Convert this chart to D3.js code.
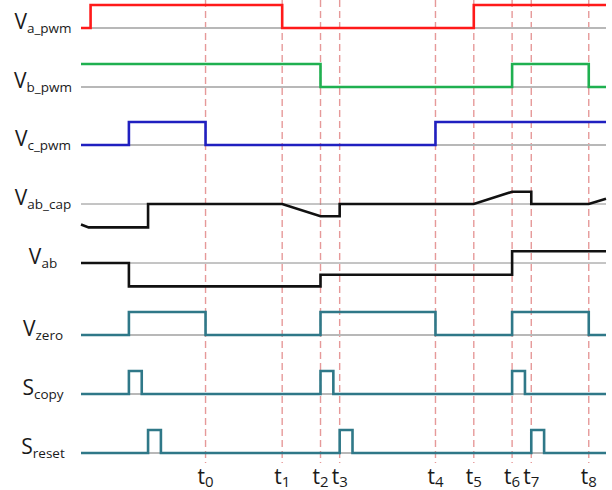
<!DOCTYPE html>
<html>
<head>
<meta charset="utf-8">
<script src="https://cdn.jsdelivr.net/npm/d3@7"></script>
<style>
  html, body { margin: 0; padding: 0; background: #fff; }
  svg { display: block; font-family: "Open Sans", sans-serif; }
</style>
</head>
<body>
<svg id="chart" width="612" height="490"></svg>
<script>
// event instants t0..t8 (time units, t0 = 0)
const tickTimes = [0, 4, 6, 7, 12, 14, 16, 17, 20];
const tickLabels = ["0", "1", "2", "3", "4", "5", "6", "7", "8"];

// row labels: main letter + subscript
const labelMain = ["V", "V", "V", "V", "V", "V", "S", "S"];
const labelSub = ["a_pwm", "b_pwm", "c_pwm", "ab_cap", "ab", "zero", "copy", "reset"];

// signal waveforms as [time, level]
const vaPwm = [[-6.5, 0], [-6, 1], [4, 0], [14, 1], [20.9, 1]];
const vbPwm = [[-6.5, 1], [6, 0], [16, 1], [20, 0], [20.9, 0]];
const vcPwm = [[-6.5, 0], [-4, 1], [0, 0], [12, 1], [20.9, 1]];
const vabCap = [[-6.5, -1.75], [-6.1, -2], [-3, -2], [-3, 0], [4, 0], [6, -1.05], [7, -1.05],
  [7, 0], [14, 0], [16, 1.05], [17, 1.05], [17, 0], [20, 0], [20.9, 0.45]];
const vab = [[-6.5, 0], [-4, -2], [6, -1], [16, 1], [20.9, 1]];
const vZero = [[-6.5, 0], [-4, 1], [0, 0], [6, 1], [12, 0], [16, 1], [20, 0], [20.9, 0]];
const sCopy = [[-6.5, 0], [-4, 1], [-3.33, 0], [6, 1], [6.67, 0], [16, 1], [16.67, 0], [20.9, 0]];
const sReset = [[-6.5, 0], [-3, 1], [-2.33, 0], [7, 1], [7.67, 0], [17, 1], [17.67, 0], [20.9, 0]];

const rows = [
  { data: vaPwm, color: "#ff1a1a", step: true, analog: false },
  { data: vbPwm, color: "#1fb050", step: true, analog: false },
  { data: vcPwm, color: "#2020c0", step: true, analog: false },
  { data: vabCap, color: "#111", step: false, analog: true },
  { data: vab, color: "#111", step: true, analog: true },
  { data: vZero, color: "#2f7888", step: true, analog: false },
  { data: sCopy, color: "#2f7888", step: true, analog: false },
  { data: sReset, color: "#2f7888", step: true, analog: false },
];

// layout
const rowBase = [28, 87, 145, 204, 263, 335, 394, 453];
const DIGITAL_AMP = 23;
const ANALOG_UNIT = 11.7;
const LABEL_X = 43;

const svg = d3.select("#chart");

const x = d3.scaleLinear().domain([-6.5, 20.9]).range([81, 606]);

// dashed time markers
svg.append("g")
  .selectAll("line")
  .data(tickTimes)
  .enter()
  .append("line")
  .attr("x1", (d) => x(d))
  .attr("x2", (d) => x(d))
  .attr("y1", 0)
  .attr("y2", 463)
  .attr("stroke", "#e08080")
  .attr("stroke-opacity", 0.8)
  .attr("stroke-width", 1.4)
  .attr("stroke-dasharray", "7,4");

// tick labels t_n
const tl = svg.append("g")
  .selectAll("text")
  .data(tickTimes)
  .enter()
  .append("text")
  .attr("x", (d) => x(d))
  .attr("y", 484)
  .attr("text-anchor", "middle")
  .attr("fill", "#1a1a1a")
  .style("font-size", "21px");
tl.append("tspan").text("t");
tl.append("tspan")
  .attr("dy", 3)
  .style("font-size", "15px")
  .text((d, i) => tickLabels[i]);

// rows
rows.forEach((r, i) => {
  const base = rowBase[i];
  const y = r.analog
    ? d3.scaleLinear().domain([0, 1]).range([base, base - ANALOG_UNIT])
    : d3.scaleLinear().domain([0, 1]).range([base, base - DIGITAL_AMP]);

  const g = svg.append("g").attr("class", "row");

  // reference baseline
  g.append("line")
    .attr("x1", x.range()[0])
    .attr("x2", x.range()[1])
    .attr("y1", y(0))
    .attr("y2", y(0))
    .attr("stroke", r.analog ? "#8a8a8a" : "#b8b8b8")
    .attr("stroke-width", r.analog ? 1 : 2);

  const line = d3.line()
    .x((d) => x(d[0]))
    .y((d) => y(d[1]))
    .curve(r.step ? d3.curveStepAfter : d3.curveLinear);

  g.append("path")
    .datum(r.data)
    .attr("d", line)
    .attr("fill", "none")
    .attr("stroke", r.color)
    .attr("stroke-width", 2.6)
    .attr("stroke-linejoin", "miter");

  // label
  const t = g.append("text")
    .attr("x", LABEL_X)
    .attr("y", base + 1)
    .attr("text-anchor", "middle")
    .attr("fill", "#1a1a1a")
    .style("font-size", "21px");
  t.append("tspan").text(labelMain[i]);
  t.append("tspan")
    .attr("dy", 4)
    .style("font-size", "13.5px")
    .text(labelSub[i]);
});
</script>
</body>
</html>
